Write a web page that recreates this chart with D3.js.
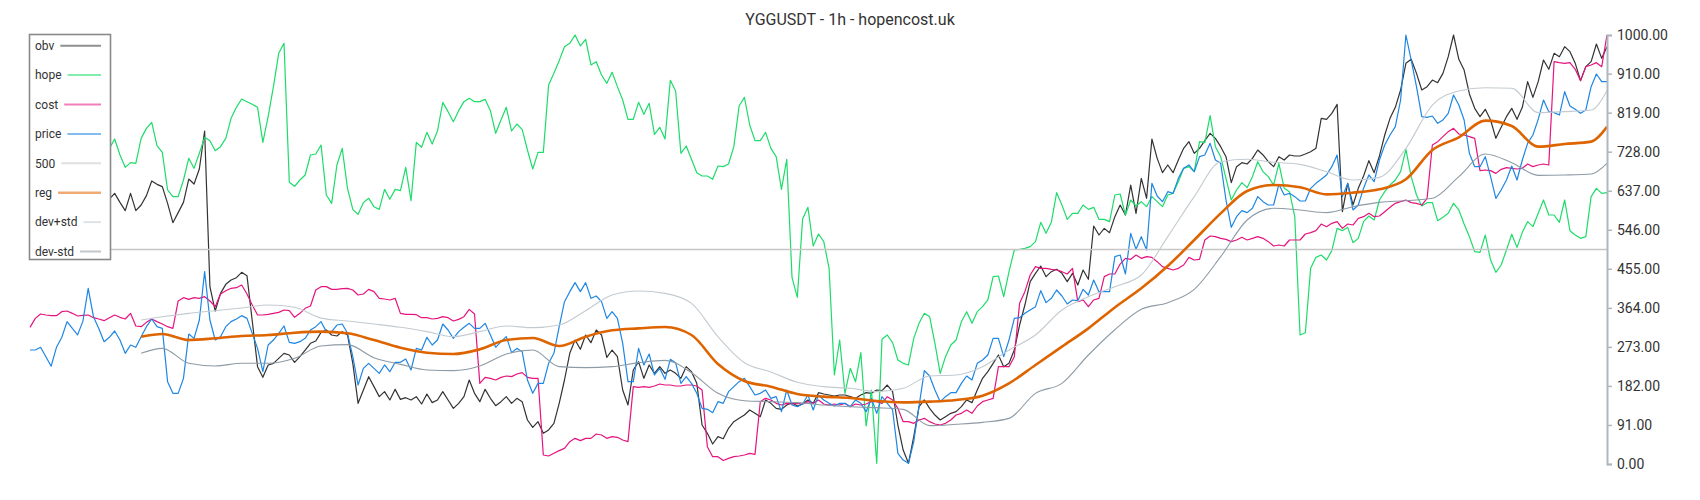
<!DOCTYPE html>
<html>
<head>
<meta charset="utf-8">
<script src="https://cdn.jsdelivr.net/npm/d3@7"></script>
<style>
  html, body { margin: 0; padding: 0; background: #ffffff; }
  svg { display: block; font-family: Roboto, "Noto Sans", sans-serif; }
</style>
</head>
<body>
<svg id="chart" width="1700" height="500"></svg>
<script>
// ---------------- data ----------------
const title = "YGGUSDT - 1h - hopencost.uk";

const price = [
265.7,265.7,272,250,228,272,295,332,316,301,
333,409.5,343,316,285,295.3,310,289,258,277.4,
272,296.8,320.1,338,320.1,316.2,191.9,164.7,164.7,199.7,
303,292.9,335.7,448.3,335.7,289,296.8,320.1,331.8,338,
345.8,339.5,304.6,269.6,215.2,277.4,289,304.6,321.7,283.6,
281.3,285.2,292.9,312.4,320.1,331.8,308.5,308.5,324,326.3,
304.6,250.2,184.1,223,234.7,223,211.3,230.8,215.2,237,
237,244.8,219.1,269.6,265.7,295.3,277.4,289,326.3,312.4,
292.9,308.5,318.6,327.9,316.2,316.2,327.9,300.7,272,285.2,
296.8,259.5,269.6,261.8,195.8,164.7,188,188,234.7,258,
320.1,378.4,401.7,422.7,401.7,422.7,386.2,391.6,378.4,339.5,
355.1,339.5,281.3,191.9,191.9,269.6,230.8,256.4,207.5,223,
197.4,244,236.2,188,203.6,188,164.7,129.8,127.4,119.7,
145.3,141.4,168.6,180.3,191.9,199.7,180.3,160.8,164.7,172.5,
153.1,157,122,172.5,137.5,133.6,139.9,160.8,125.9,160.8,
149.2,141.4,135.2,141.4,141.4,133.6,149.2,141.4,122,153.1,
118.1,157,141.4,125.9,24.9,9.3,1.6,52.1,135,217.6,
205.1,172.5,145.3,157,166.3,166.3,188,205.1,195.8,234.7,
242.4,254.1,292.9,292.9,250.2,289,339.5,341.1,351.2,359,
366.7,404,376.1,386.2,405.6,391.6,373,382.3,380.7,407.1,
393.9,428.9,401.7,401.7,401.7,483.3,487.2,442.9,537.7,500.4,
529.9,498.8,654.2,624.7,611.5,634.8,630.9,665.9,689.2,697,
681.4,716.4,720.3,747.5,708.6,700.9,615.4,551.7,576.5,590.5,
585.9,596,623.2,611.5,603.7,603.7,651.9,627,630.9,623.2,
613.1,613.1,642.6,654.2,663.6,673.7,693.1,720.3,623.2,654.2,
592.1,603.7,642.6,673.7,658.1,708.6,743.6,766.9,786.3,848.5,
1000,941.7,879.6,809.6,808.1,811.2,794.1,801.9,817.4,860.1,
836.8,801.9,724.2,693.1,693.1,716.4,669.8,619.3,638.7,662,
694.6,662,708.6,747.5,766.9,803.4,848.5,821.3,819,813.5,
867.9,834.5,826.7,817.4,825.2,879.6,909.1,891.2,891.2
];

const cost = [
318.6,339.5,349.7,347.3,345.8,345.8,355,356.6,351.2,345,
346.5,347.3,341.1,338,334.1,341,347.3,341.9,338,351.2,
321.7,320.1,330.2,338,331.8,326.3,320.1,316.2,380,387.7,
383.8,387.7,386.2,390,380,366.7,396.3,404,409.5,411,
417.2,396.3,370.6,347.3,347.3,348.9,351.2,353.5,359,357.4,
341.9,351.2,362.9,368.3,405.6,413.4,413.4,407.1,407.1,408.7,
409.5,405.6,393.9,396.3,407.1,401.7,386.2,384.6,382.3,386.2,
351.2,348.9,348.9,348.1,341.1,341.1,338,339.5,343.4,341.1,
333.3,337.2,343.4,360.5,349.7,188,202,199.7,195.8,202,
205.1,203.6,209.8,212.9,202,199.7,199.7,21,18.6,24.9,
31.1,36.5,52.1,59.8,54.4,59.8,59.8,69.9,67.6,59.8,
63.7,62.2,55.9,52.1,180.3,178.7,180.3,178.7,181.8,186.5,
184.1,184.1,181.8,181.8,184.1,184.1,181.8,172.5,40.4,17.1,
17.1,8,13.2,17.1,18.6,21,24.9,22.5,145.3,153.1,
149.2,141.4,137.5,141.4,139.9,141.4,139.9,145.3,141.4,149.2,
139.9,137.5,139.9,137.5,141.4,133.6,139.9,137.5,139.9,145.3,
145.3,141.4,157,149.2,129.8,98.7,98.7,94.8,102.6,106.4,
98.7,93.2,90.9,94.8,102.6,114.2,118.1,125.9,118.1,135.2,
145.3,149.2,153.1,226.9,226.9,226.9,250.2,374.5,401.7,440.6,
460,456.1,456.1,453.8,452.2,448.3,442.9,456.1,378.4,382.3,
366.7,382.3,386.2,436.7,442.9,442.9,466,479.4,477.1,487.2,
479.4,483.3,481.7,471.6,460,456.1,452.2,456.1,463.9,481.7,
475.5,477.1,522.1,531.5,529.9,526,523.7,518.3,522.1,528.4,
522.1,526,529.9,526,518.3,508.2,510.5,508.2,522.1,522.1,
522.1,536.1,539.2,543.9,559.4,553.2,561,564.9,549.3,559.4,
557.1,572.6,576.5,584.3,576.5,578.1,588.2,598.3,607.6,611.5,
615.4,609.2,607.6,603.7,619.3,743.6,751.4,763,774.7,782.4,
769.2,766.9,763,759.1,683.8,685.3,683.8,677.5,686.9,690.8,
689.2,687.6,689.2,699.3,693.1,697,699.3,697,937.8,935.5,
934,935.5,920,893.6,926.2,930.1,935.5,926.2,1000
];

// first 15 values of hope and obv lie under the legend box and cannot be read
const hope = [
null,null,null,null,null,null,null,null,null,null,
null,null,null,null,null,735.8,757.6,720.3,691.5,702.4,
700.9,759.1,782.4,796.4,742,726.5,638.7,623.2,623.2,662,
712.5,689.2,724.2,761.5,753.7,730.4,739.7,759.1,805.7,831.4,
850.8,844.6,838.4,831.4,749.8,809.6,879.6,957.3,980.6,656.6,
647.2,662,673.7,720.3,722.6,743.6,627,607.6,697,735.8,
642.6,593.6,582,609.2,619.3,599.8,593.6,640.2,617,640.2,
637.1,691.5,613.8,749.8,738.2,773.1,745.9,776.2,843,821.3,
798,823.6,844.6,852.4,844.6,844.6,850,823.6,770.8,801.9,
831.4,776.2,792.5,780.1,731.9,687.6,726.5,726.5,883.4,910.6,
940.2,972.8,980.6,1000,974.4,989.9,930.1,937.8,906.8,887.3,
913,879.6,848.5,803.4,803.4,843,815.1,840.7,768.5,784.8,
757.6,894.3,869.5,724.2,741.3,710.2,679.1,671.3,671.3,663.6,
694.6,693.1,699.3,739.7,834.5,854.7,790.2,753.7,753.7,773.1,
735.8,716.4,640.2,710.2,434.3,388.5,571.1,598.3,508.2,536.1,
518.3,456.1,207.5,289,164.7,223,191.9,259.5,88.6,172.5,
1.6,290.6,300.7,282.8,242.4,234.7,230.8,292.9,327.9,351.2,
343.4,281.3,211.3,250.2,277.4,289,331.8,355.1,327.9,355.1,
366.7,382.3,436.7,438.2,390,448.3,498.8,500.4,502.7,506.6,
518.3,563.3,537.7,563.3,632.5,603.7,570.3,584.3,584.3,603.7,
593.6,598.3,570.3,570.3,564.9,627,629.4,580.4,615.4,601.4,
611.5,599.8,623.2,611.5,599.8,627,630.9,658.1,689.2,693.1,
681.4,751.4,749,812,739.7,716.4,665.9,615.4,638.7,655.8,
644.1,669.8,704.7,681.4,669.8,650.3,700.9,642.6,634.8,576.5,
300.7,306.1,456.1,481.7,487.2,475.5,497.3,549.3,543.9,551.7,
515.9,526,564.9,578.1,568.8,615.4,634.8,650.3,662,681.4,
733.5,669.8,627,601.4,609.2,609.2,567.2,575,584.3,607.6,
592.1,559.4,529.9,494.9,493.4,533.8,475.5,446.8,463.9,498.8,
535.4,505,540,564.9,553.2,584.3,615.4,580.4,580.4,563.3,
615.4,543.9,533.8,526,529.9,623.2,642.6,630.9,632.5
];

const obv = [
null,null,null,null,null,null,null,null,null,null,
null,null,null,null,null,617.7,630.9,609.9,590.5,630.9,
590.5,603.7,625.5,659.7,651.9,646.5,607.6,562.5,585.9,609.9,
664.3,652.7,687.6,776.2,413.4,356.6,397.8,418.8,428.9,434.3,
446.8,439,333.3,226.9,202,230.8,234.7,246.3,258,254.1,
237,250.2,265.7,281.3,286.7,306.9,312.4,300.7,298.4,308.5,
300.7,234.7,141.4,172.5,203.6,180.3,157,168.6,149.2,174,
150.7,154.6,149.2,157,139.9,163.2,143,149.2,168.6,149.2,
129.8,141.4,157,195.8,164.7,145.3,174,153.1,136,145.3,
157,141.4,153.1,145.3,102.6,85.5,98.7,71.5,79.3,94.8,
141.4,195.8,258,289,267.3,300.7,282.8,312.4,300.7,248.6,
265.7,250.2,172.5,137.5,219.1,238.5,199.7,230.8,211.3,226.9,
211.3,219.1,211.3,199.7,226.9,215.2,188,90.9,71.5,46.6,
63.7,59,83.1,98.7,106.4,114.2,125.9,118.1,110.3,149.2,
141.4,129.8,127.4,137.5,143,135.2,139.9,149.2,141.4,166.3,
163.2,160.8,158.5,160.8,160.8,157,153.1,160.8,166.3,164.7,
172.5,170.9,184.1,168.6,90.9,32.6,1.6,63.7,133.6,149.2,
129.8,114.2,102.6,110.3,118.1,122,133.6,149.2,143,172.5,
199.7,215.2,234.7,254.1,226.9,234.7,265.7,324,370.6,425,
444.4,461.5,436.7,448.3,453.8,444.4,425,444.4,417.2,452.2,
430.5,554.8,533.8,549.3,539.2,576.5,603.7,580.4,650.3,584.3,
665.9,619.3,757.6,712.5,679.1,697,679.1,708.6,735.8,751.4,
724.2,735.8,753.7,770.8,759.1,739.7,716.4,655.8,693.1,702.4,
699.3,712.5,731.9,720.3,704.7,693.1,716.4,708.6,720.3,718,
718,722.6,728,735.8,805.7,803.4,817.4,838.4,588.2,654.2,
603.7,642.6,671.3,707.1,679.1,718,766.9,805.7,831.4,871.8,
934,943.3,910.6,871.8,879.6,895.1,888.9,910.6,949.5,1000,
943.3,918.4,862.5,829.1,809.6,826.7,801.9,759.1,784.8,809.6,
829.1,803.4,831.4,891.2,854.7,891.2,941.7,920,957.3,949.5,
972.8,961.1,934,893.6,926.2,937.8,979,945.6,972.8
];

// smooth series, read at these candle indices
const bandIdx = [21,25,30,35,40,45,50,55,60,65,70,75,80,85,90,95,100,105,110,115,120,125,130,135,140,145,150,155,160,165,170,175,180,185,190,195,200,205,210,215,220,225,230,235,240,245,250,255,260,265,270,275,280,285,290,295,298];
const reg = [296.8,303,289,293,298.4,300.7,306,308.5,304.6,289,271.2,259.5,256.4,267.3,289,293.7,275,296.8,311.6,316.2,319.3,300.7,233.1,193.5,180.3,163.2,157,153.8,146.9,143.7,145.3,149.2,159.3,188,230.8,273.5,316.2,365,409.5,461.5,522.1,584.3,636.4,650.3,644.9,628.6,632.5,640.2,663.6,731.9,761.5,800.3,787.9,739.7,745.9,751.4,786.3];
const devPlus = [335.7,343.4,351.2,357.4,363.6,370.6,365.2,340,333.3,326.3,318.6,308.5,296.8,308.5,321.7,317.8,324,357.4,393.9,403.3,397.8,374.5,296.8,236.2,214.5,190.4,180.3,176.4,168.6,176.4,205.1,207.5,226.9,265.7,300.7,359,390,413.4,440.6,529.9,623.2,704.7,710.2,703.2,698.5,681.4,662,668.2,735.8,836.8,869.5,877.2,875.7,819,821.3,825.2,870.2];
const devMinus = [258,269.6,234.7,228.4,234.7,234.7,246.3,275,278.2,247.9,232.3,219.1,217.6,228.4,256.4,265.7,226.9,224.6,226.9,236.2,241.6,212.9,164.7,147.6,145.3,143,137.5,133.6,131.3,127.4,89.4,92.5,97.1,106.4,164.7,188,254.1,313,360.5,376.1,407.1,483.3,568.8,596,592.1,585.9,599.8,609.9,613.8,619.3,669.8,722.6,702.4,672.9,673.7,676,700.9];

const level500 = 500;
const yTicks = [0, 91, 182, 273, 364, 455, 546, 637, 728, 819, 910, 1000];
const legendNames = ["obv", "hope", "cost", "price", "500", "reg", "dev+std", "dev-std"];

// ---------------- styles ----------------
const colors = {
  "obv": "#333333", "hope": "#1ddc6a", "cost": "#e5147e", "price": "#1e86e3",
  "500": "#c6c6c6", "reg": "#de6400", "dev+std": "#c3cbd1", "dev-std": "#8d9ba6"
};
const widths = {
  "obv": 1.2, "hope": 1.2, "cost": 1.2, "price": 1.2,
  "500": 1.6, "reg": 2.6, "dev+std": 1.1, "dev-std": 1.1
};

// ---------------- drawing ----------------
const svg = d3.select("#chart");
const N = price.length;
const x = d3.scaleLinear().domain([0, N - 1]).range([30, 1607]);
const y = d3.scaleLinear().domain([0, 1000]).range([464, 35]);

const lineIdx = d3.line()
  .defined(d => d != null)
  .x((d, i) => x(i))
  .y(d => y(d));

const lineBand = d3.line()
  .x(d => x(d[0]))
  .y(d => y(d[1]))
  .curve(d3.curveMonotoneX);

const g = svg.append("g");

function drawSeries(name, data) {
  g.append("path").datum(data)
    .attr("fill", "none")
    .attr("stroke", colors[name])
    .attr("stroke-width", widths[name])
    .attr("stroke-linejoin", "round")
    .attr("d", lineIdx);
}
function drawBand(name, vals) {
  g.append("path").datum(bandIdx.map((k, j) => [k, vals[j]]))
    .attr("fill", "none")
    .attr("stroke", colors[name])
    .attr("stroke-width", widths[name])
    .attr("d", lineBand);
}

drawSeries("obv", obv);
drawSeries("hope", hope);
drawSeries("cost", cost);
drawSeries("price", price);
g.append("line")
  .attr("x1", x(0)).attr("x2", x(N - 1))
  .attr("y1", y(level500)).attr("y2", y(level500))
  .attr("stroke", colors["500"]).attr("stroke-width", widths["500"]);
drawBand("reg", reg);
drawBand("dev+std", devPlus);
drawBand("dev-std", devMinus);

// right axis
const axis = d3.axisRight(y)
  .tickValues(yTicks)
  .tickFormat(d => d.toFixed(2))
  .tickSize(5)
  .tickSizeOuter(5)
  .tickPadding(5);
const ax = svg.append("g")
  .attr("transform", `translate(${x(N - 1)},0)`)
  .call(axis);
ax.select(".domain").attr("stroke", "#adb7bf").attr("stroke-width", 2);
ax.selectAll(".tick line").attr("stroke", "#adb7bf").attr("stroke-width", 1.5);
ax.selectAll(".tick text")
  .attr("fill", "#333333")
  .style("font-size", "14px")
  .style("font-family", "Roboto, sans-serif");

// title
svg.append("text")
  .attr("x", 850).attr("y", 25)
  .attr("text-anchor", "middle")
  .attr("fill", "#333333")
  .style("font-size", "16px")
  .text(title);

// legend
const lg = svg.append("g");
lg.append("rect")
  .attr("x", 29.5).attr("y", 34.5)
  .attr("width", 81).attr("height", 225)
  .attr("fill", "#ffffff")
  .attr("stroke", "#8a8a8a")
  .attr("stroke-width", 1.6);
legendNames.forEach((name, k) => {
  const cy = 45.7 + k * 29.4;
  const t = lg.append("text")
    .attr("x", 35).attr("y", cy)
    .attr("dy", "0.35em")
    .attr("fill", "#333333")
    .style("font-size", "12px")
    .text(name);
  const tw = t.node().getComputedTextLength();
  lg.append("line")
    .attr("x1", 35 + tw + 6).attr("x2", 101)
    .attr("y1", cy).attr("y2", cy)
    .attr("stroke", colors[name])
    .attr("stroke-opacity", 0.55)
    .attr("stroke-width", name === "reg" ? 2.6 : 2);
});
</script>
</body>
</html>
